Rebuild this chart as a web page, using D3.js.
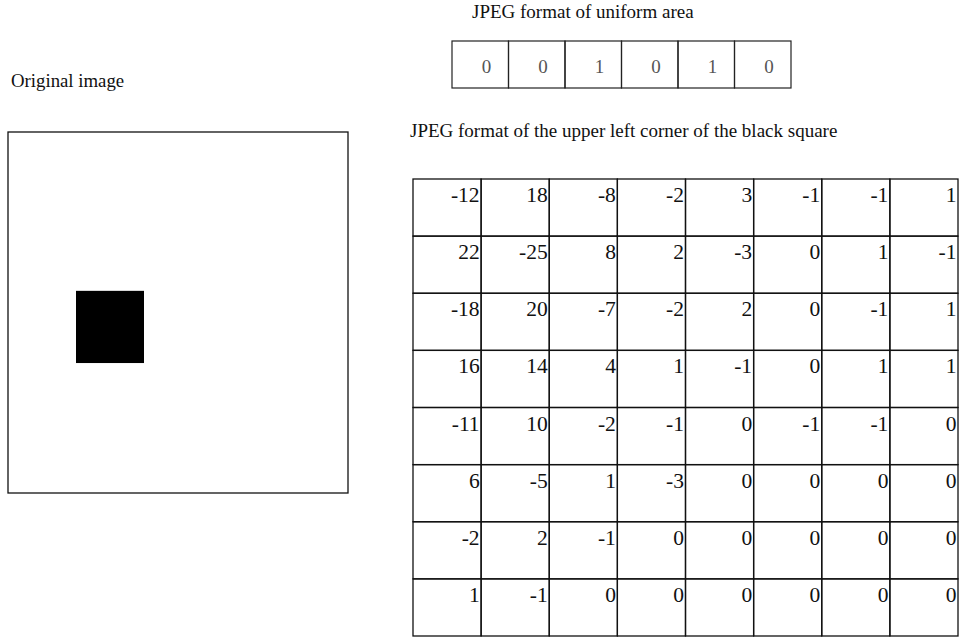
<!DOCTYPE html>
<html>
<head>
<meta charset="utf-8">
<script src="https://cdn.jsdelivr.net/npm/d3@7"></script>
<style>
  body { margin: 0; background: #fff; }
  text { font-family: "Liberation Serif", "Times New Roman", serif; }
</style>
</head>
<body>
<div id="chart"></div>
<script>
// Coefficients of the uniform area
var uniformValues = [0, 0, 1, 0, 1, 0];

// Coefficients of the upper left corner of the black square (8 x 8)
var cornerRows = [
  [-12, 18, -8, -2, 3, -1, -1, 1],
  [22, -25, 8, 2, -3, 0, 1, -1],
  [-18, 20, -7, -2, 2, 0, -1, 1],
  [16, 14, 4, 1, -1, 0, 1, 1],
  [-11, 10, -2, -1, 0, -1, -1, 0],
  [6, -5, 1, -3, 0, 0, 0, 0],
  [-2, 2, -1, 0, 0, 0, 0, 0],
  [1, -1, 0, 0, 0, 0, 0, 0]
];

// Black square inside the original image (image is 0..100 on both axes)
var squareX = [20, 40];
var squareY = [44, 64];

// Text labels
var originalLabel = "Original image";
var uniformTitle = "JPEG format of uniform area";
var cornerTitle = "JPEG format of the upper left corner of the black square";

var svgWidth = 959;
var svgHeight = 639;

var svg = d3.select("#chart")
  .append("svg")
  .attr("width", svgWidth)
  .attr("height", svgHeight);

// ---- Original image ----
var imgX = d3.scaleLinear().domain([0, 100]).range([8, 348]);
var imgY = d3.scaleLinear().domain([0, 100]).range([132, 493]);

svg.append("text")
  .attr("x", 11)
  .attr("y", 87)
  .attr("font-size", "18.8px")
  .attr("fill", "#111")
  .text(originalLabel);

svg.append("rect")
  .attr("x", imgX(0))
  .attr("y", imgY(0))
  .attr("width", imgX(100) - imgX(0))
  .attr("height", imgY(100) - imgY(0))
  .attr("fill", "#fff")
  .attr("stroke", "#111")
  .attr("stroke-width", 1.3);

svg.append("rect")
  .attr("x", imgX(squareX[0]))
  .attr("y", imgY(squareY[0]))
  .attr("width", imgX(squareX[1]) - imgX(squareX[0]))
  .attr("height", imgY(squareY[1]) - imgY(squareY[0]))
  .attr("fill", "#000");

// ---- Uniform area table ----
svg.append("text")
  .attr("x", 472)
  .attr("y", 18)
  .attr("font-size", "19px")
  .attr("fill", "#111")
  .text(uniformTitle);

var ux = d3.scaleBand().domain(d3.range(uniformValues.length)).range([452, 791]);
var uy = [41, 88];

var uniformGroup = svg.append("g");

uniformGroup.selectAll("rect")
  .data(uniformValues)
  .enter()
  .append("rect")
  .attr("x", (d, i) => ux(i))
  .attr("y", uy[0])
  .attr("width", ux.bandwidth())
  .attr("height", uy[1] - uy[0])
  .attr("fill", "none")
  .attr("stroke", "#222")
  .attr("stroke-width", 1.2);

uniformGroup.selectAll("text")
  .data(uniformValues)
  .enter()
  .append("text")
  .attr("x", (d, i) => ux(i) + ux.bandwidth() * 0.61)
  .attr("y", 73)
  .attr("text-anchor", "middle")
  .attr("font-family", "'Liberation Mono', 'Courier New', monospace")
  .attr("font-size", "19px")
  .attr("fill", "#555")
  .text(d => d);

// ---- Upper left corner table ----
svg.append("text")
  .attr("x", 410)
  .attr("y", 137)
  .attr("font-size", "19px")
  .attr("fill", "#111")
  .text(cornerTitle);

var cx = d3.scaleBand().domain(d3.range(8)).range([413, 958]);
var cy = d3.scaleBand().domain(d3.range(cornerRows.length)).range([179, 636]);

var cornerGroup = svg.append("g");

var cells = [];
cornerRows.forEach(function(row, r) {
  row.forEach(function(v, c) {
    cells.push({ row: r, col: c, value: v });
  });
});

cornerGroup.selectAll("rect")
  .data(cells)
  .enter()
  .append("rect")
  .attr("x", d => cx(d.col))
  .attr("y", d => cy(d.row))
  .attr("width", cx.bandwidth())
  .attr("height", cy.bandwidth())
  .attr("fill", "none")
  .attr("stroke", "#111")
  .attr("stroke-width", 1.3);

cornerGroup.selectAll("text")
  .data(cells)
  .enter()
  .append("text")
  .attr("x", d => cx(d.col) + cx.bandwidth() - 1.5)
  .attr("y", d => cy(d.row) + 23)
  .attr("text-anchor", "end")
  .attr("font-size", "21.5px")
  .attr("fill", "#111")
  .text(d => d.value);
</script>
</body>
</html>
